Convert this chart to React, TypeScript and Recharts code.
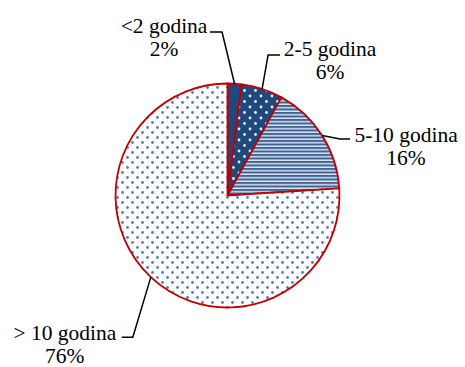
import React from "react";
import { PieChart, Pie, Cell } from "recharts";

// udio ispitanika po godinama staža
const categories = ["<2 godina", "2-5 godina", "5-10 godina", "> 10 godina"];
const shares = [2, 6, 16, 76];
const percentLabels = ["2%", "6%", "16%", "76%"];

const fills = ["#1F497D", "url(#dotsDark)", "url(#stripes)", "url(#dotsLight)"];

// leader line geometry per slice: elbow offset from slice edge, arm length, text offset from arm end
const leaders = [
  { ex: -12.5, ey: -51.7, arm: -12, tx: -46, ty: 1 },
  { ex: 6, ey: -34, arm: 12, tx: 50, ty: 1 },
  { ex: 18, ey: 3.5, arm: 10, tx: 56, ty: 3 },
  { ex: -18, ey: 60, arm: -11, tx: -57, ty: 3 },
];

const data = categories.map((name, i) => ({ name, value: shares[i] }));
const RADIAN = Math.PI / 180;

function SliceLabel(props: any) {
  const { cx, cy, midAngle, outerRadius, index } = props;
  const l = leaders[index];
  const x0 = cx + outerRadius * Math.cos(-midAngle * RADIAN);
  const y0 = cy + outerRadius * Math.sin(-midAngle * RADIAN);
  const x1 = x0 + l.ex;
  const y1 = y0 + l.ey;
  const x2 = x1 + l.arm;
  const tx = x2 + l.tx;
  const ty = y1 + l.ty;
  return (
    <g>
      <polyline points={`${x0},${y0} ${x1},${y1} ${x2},${y1}`} fill="none" stroke="#000" strokeWidth={1.5} />
      <text x={tx} y={ty} textAnchor="middle" fontFamily="Liberation Serif" fontSize={21.5} fill="#000">
        <tspan x={tx} y={ty}>{categories[index]}</tspan>
        <tspan x={tx} y={ty + 23}>{percentLabels[index]}</tspan>
      </text>
    </g>
  );
}

export default function App() {
  return (
    <div style={{ position: "absolute", left: 0, top: 0, width: 465, height: 367, background: "#fff" }}>
      <PieChart width={465} height={367} margin={{ top: 0, right: 0, bottom: 0, left: 0 }}>
        <defs>
          <pattern id="dotsDark" width="11" height="11" patternUnits="userSpaceOnUse">
            <rect width="11" height="11" fill="#1F497D" />
            <circle cx="2.5" cy="2.5" r="1.4" fill="#E8EEF7" />
            <circle cx="8" cy="8" r="1.4" fill="#E8EEF7" />
          </pattern>
          <pattern id="stripes" width="8" height="3.5" patternUnits="userSpaceOnUse">
            <rect width="8" height="3.5" fill="#DCE4F0" />
            <rect width="8" height="2" fill="#3E6396" />
          </pattern>
          <pattern id="dotsLight" width="10" height="10" patternUnits="userSpaceOnUse">
            <rect width="10" height="10" fill="#FFFFFF" />
            <circle cx="2.5" cy="2.5" r="1.4" fill="#5A7DB0" />
            <circle cx="7.5" cy="7.5" r="1.4" fill="#5A7DB0" />
          </pattern>
        </defs>
        <Pie
          data={data}
          dataKey="value"
          nameKey="name"
          cx={227.5}
          cy={195.5}
          outerRadius={112}
          startAngle={90}
          endAngle={-270}
          stroke="#C00000"
          strokeWidth={1.8}
          labelLine={false}
          label={SliceLabel}
          isAnimationActive={false}
        >
          {data.map((d, i) => (
            <Cell key={d.name} fill={fills[i]} />
          ))}
        </Pie>
      </PieChart>
    </div>
  );
}
